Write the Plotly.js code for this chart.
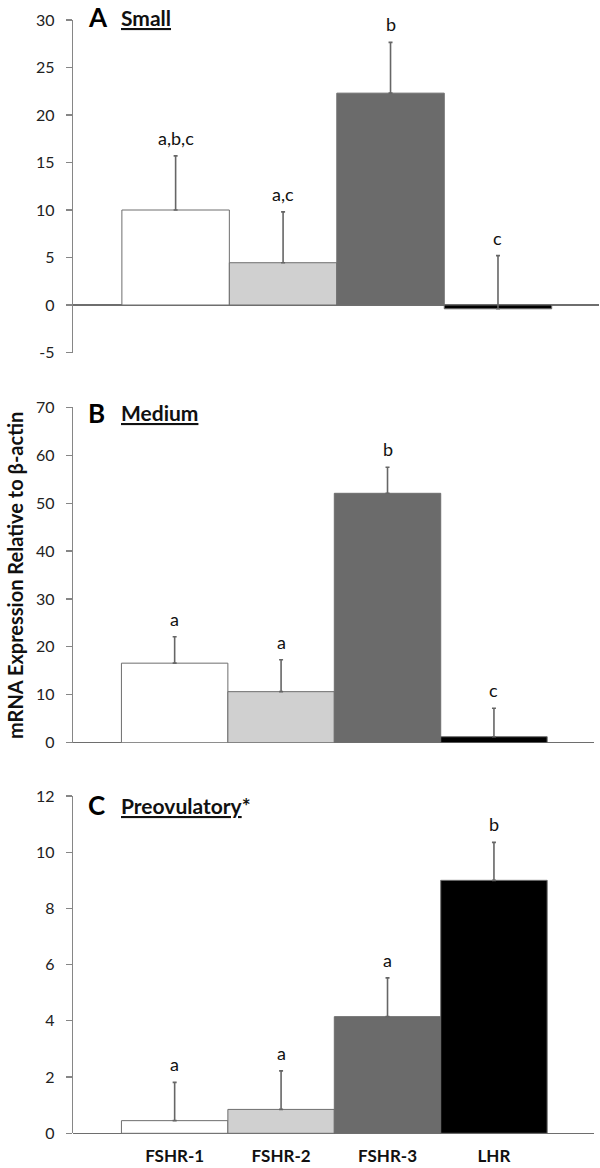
<!DOCTYPE html>
<html>
<head>
<meta charset="utf-8">
<script src="https://cdn.plot.ly/plotly-3.0.1.min.js"></script>
<style>html,body{margin:0;padding:0;background:#fff;}#chart{width:600px;height:1168px;}</style>
</head>
<body>
<div id="chart"></div>
<script>
const categories = ['FSHR-1', 'FSHR-2', 'FSHR-3', 'LHR'];
const barColors = ['#ffffff', '#d0d0d0', '#6b6b6b', '#000000'];

const smallMean = [10.0, 4.45, 22.3, -0.4];
const smallErr = [5.7, 5.35, 5.35, 5.6];
const smallLetters = ['a,b,c', 'a,c', 'b', 'c'];
const smallTickVals = [-5, 0, 5, 10, 15, 20, 25, 30];
const smallTickText = ['-5', '0', '5', '10', '15', '20', '25', '30'];

const mediumMean = [16.6, 10.65, 52.05, 1.25];
const mediumErr = [5.5, 6.65, 5.45, 5.95];
const mediumLetters = ['a', 'a', 'b', 'c'];

const preovMean = [0.45, 0.85, 4.15, 9.0];
const preovErr = [1.36, 1.37, 1.38, 1.35];
const preovLetters = ['a', 'a', 'a', 'b'];

const panels = [
  {mean: smallMean, err: smallErr, letters: smallLetters, letter: 'A', name: 'Small', xa: 'x', ya: 'y', ay: 17},
  {mean: mediumMean, err: mediumErr, letters: mediumLetters, letter: 'B', name: 'Medium', xa: 'x2', ya: 'y2', ay: 413},
  {mean: preovMean, err: preovErr, letters: preovLetters, letter: 'C', name: 'Preovulatory', star: '*', xa: 'x3', ya: 'y3', ay: 805}
];

const FONT = 'Lato, "Open Sans", "DejaVu Sans", sans-serif';
const H = 1168, W = 600;

const traces = panels.map(p => ({
  type: 'bar',
  x: categories,
  y: p.mean,
  xaxis: p.xa,
  yaxis: p.ya,
  width: 1,
  marker: {color: barColors, line: {color: '#6e6e6e', width: 1}},
  error_y: {type: 'data', symmetric: false, array: p.err, arrayminus: p.mean.map(() => 0), color: '#666666', thickness: 1.6, width: 2},
  hoverinfo: 'skip'
}));

const annotations = [];
panels.forEach(p => {
  categories.forEach((c, i) => {
    annotations.push({
      xref: p.xa, yref: p.ya, x: c, y: p.mean[i] + p.err[i],
      text: p.letters[i], showarrow: false, yanchor: 'bottom', yshift: 5,
      font: {family: FONT, size: 18, color: '#111'}
    });
  });
  annotations.push({
    xref: 'paper', yref: 'paper', x: 86 / W, y: 1 - p.ay / H, xanchor: 'left', yanchor: 'middle',
    text: '<b>' + p.letter + '</b>', showarrow: false,
    font: {family: FONT, size: 26, color: '#000'}
  });
  annotations.push({
    xref: 'paper', yref: 'paper', x: 119 / W, y: 1 - p.ay / H, xanchor: 'left', yanchor: 'middle',
    text: '<b><u>' + p.name + '</u>' + (p.star || '') + '</b>', showarrow: false,
    font: {family: FONT, size: 21, color: '#111'}
  });
});
annotations.push({
  xref: 'paper', yref: 'paper', x: 15 / W, y: 1 - 576 / H, xanchor: 'center', yanchor: 'middle',
  text: '<b>mRNA Expression Relative to β-actin</b>', textangle: -90, showarrow: false,
  font: {family: FONT, size: 20, color: '#111'}
});

const yBase = {
  showline: true, linecolor: '#868686', linewidth: 1.2,
  ticks: 'outside', ticklen: 6, tickcolor: '#868686', tickwidth: 1.2,
  showgrid: false, zeroline: true, zerolinecolor: '#6e6e6e', zerolinewidth: 1.2,
  tickfont: {family: FONT, size: 16, color: '#222'}, ticklabelstandoff: 8,
  fixedrange: true
};
const xBase = {
  showline: false, showgrid: false, zeroline: false, ticks: '',
  range: [-0.955, 3.94], fixedrange: true,
  tickfont: {family: FONT, size: 17, color: '#111', weight: 'bold'}
};

const layout = {
  width: W, height: H,
  margin: {l: 0, r: 0, t: 0, b: 0},
  paper_bgcolor: '#fff', plot_bgcolor: 'rgba(0,0,0,0)',
  showlegend: false, bargap: 0,
  xaxis: Object.assign({}, xBase, {domain: [73 / W, 599 / W], anchor: 'y', showticklabels: false}),
  xaxis2: Object.assign({}, xBase, {domain: [73 / W, 594 / W], anchor: 'y2', showticklabels: false}),
  xaxis3: Object.assign({}, xBase, {domain: [73 / W, 594 / W], anchor: 'y3', showticklabels: true, ticklabelstandoff: 11}),
  yaxis: Object.assign({}, yBase, {domain: [1 - 352.5 / H, 1 - 20 / H], range: [-5, 30], tickvals: smallTickVals, ticktext: smallTickText, anchor: 'x'}),
  yaxis2: Object.assign({}, yBase, {domain: [1 - 742.7 / H, 1 - 407.3 / H], range: [0, 70], dtick: 10, anchor: 'x2'}),
  yaxis3: Object.assign({}, yBase, {domain: [1 - 1133.3 / H, 1 - 796 / H], range: [0, 12], dtick: 2, anchor: 'x3'}),
  annotations: annotations
};

Plotly.newPlot('chart', traces, layout, {staticPlot: true, displayModeBar: false});
</script>
</body>
</html>
